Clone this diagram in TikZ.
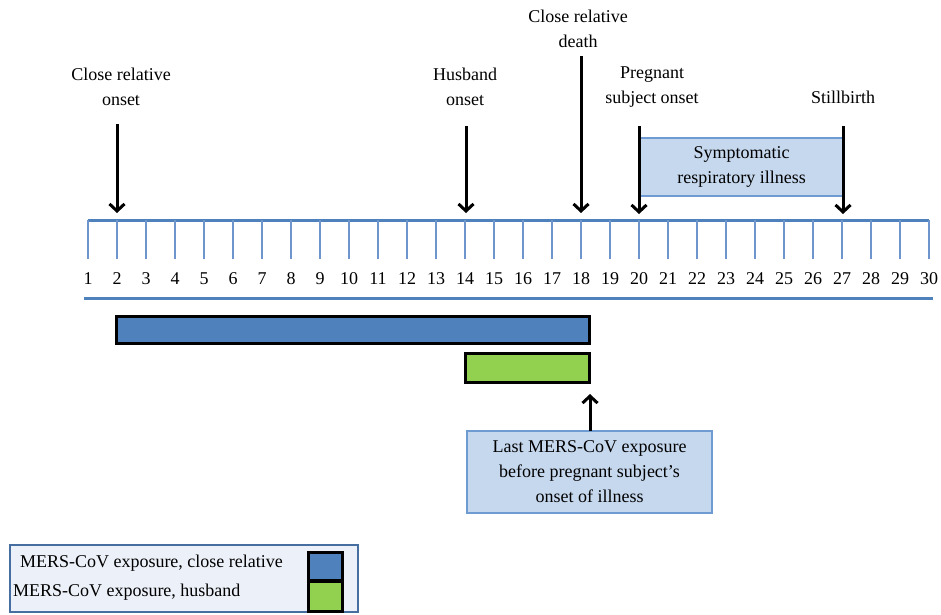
\documentclass[tikz,border=0pt]{standalone}
\usepackage{fontspec}
\setmainfont{Liberation Serif}
\usetikzlibrary{arrows.meta,calc}
\definecolor{axisblue}{RGB}{79,129,189}
\definecolor{tickblue}{RGB}{110,150,205}
\definecolor{barblue}{RGB}{79,129,189}
\definecolor{bargreen}{RGB}{146,208,80}
\definecolor{boxfill}{RGB}{198,216,238}
\definecolor{boxline}{RGB}{110,155,210}
\definecolor{legfill}{RGB}{236,240,248}
\definecolor{legline}{RGB}{70,110,160}
\begin{document}
\begin{tikzpicture}[x=1pt,y=-1pt,
  every node/.style={font=\rmfamily\fontsize{18}{25}\selectfont, inner sep=0pt, outer sep=0pt},
  lbl/.style={align=center},
  evarrow/.style={line width=3pt, -{Straight Barb[length=7pt,width=15pt,line width=3pt]}},
  axisline/.style={axisblue, line width=3pt},
  tickline/.style={tickblue, line width=1.3pt},
  barstyle/.style={draw=black, line width=3pt, rectangle},
  infobox/.style={draw=boxline, fill=boxfill, line width=1.2pt, rectangle, align=center},
  legbox/.style={draw=legline, fill=legfill, line width=2.5pt, rectangle},
  swatch/.style={draw=black, line width=3pt, rectangle, minimum width=34pt, minimum height=28pt}
]
\useasboundingbox (0,0) rectangle (941,614);

% axis
\draw[axisline] (88,220) -- (929,220);
\draw[axisline] (84,298) -- (933,298);
\foreach \n in {1,...,30}{
  \pgfmathsetmacro{\xx}{88+29*(\n-1)}
  \draw[tickline] (\xx,220) -- (\xx,259);
  \node (num\n) at (\xx,279) {\n};
}

% event labels
\node[lbl] (lcr) at (121,87) {Close relative\\onset};
\node[lbl] (lhb) at (465,87) {Husband\\onset};
\node[lbl] (lcd) at (578,29) {Close relative\\death};
\node[lbl] (lps) at (652,87) {Pregnant\\subject onset};
\node[lbl] (lsb) at (843,97) {Stillbirth};

% symptomatic box
\node[infobox, minimum width=203pt, minimum height=58pt] (symp) at (741.5,167) {Symptomatic\\respiratory illness};

% arrows
\coordinate (s2) at (117,124); \coordinate (e2) at (117,213);
\coordinate (s14) at (466,126); \coordinate (e14) at (466,213);
\coordinate (s18) at (581,56); \coordinate (e18) at (581,213);
\coordinate (s20) at (639,126); \coordinate (e20) at (639,214);
\coordinate (s27) at (843,126); \coordinate (e27) at (843,214);
\draw[evarrow] (s2) -- (e2);
\draw[evarrow] (s14) -- (e14);
\draw[evarrow] (s18) -- (e18);
\draw[evarrow] (s20) -- (e20);
\draw[evarrow] (s27) -- (e27);

% bars
\node[barstyle, fill=barblue, minimum width=473pt, minimum height=27pt] (barcr) at (353,330) {};
\node[barstyle, fill=bargreen, minimum width=124pt, minimum height=29pt] (barhb) at (527.5,368) {};

% last exposure box
\node[infobox, minimum width=245pt, minimum height=82pt] (last) at (589.5,472) {Last MERS-CoV exposure\\before pregnant subject’s\\onset of illness};
\coordinate (uptip) at (590,394);
\draw[evarrow] (last.north -| uptip) -- (uptip);

% legend
\node[legbox, minimum width=348pt, minimum height=67pt] (legend) at (184,578.5) {};
\node[swatch, fill=barblue] (swb) at (325.5,566) {};
\node[swatch, fill=bargreen, minimum height=30pt] (swg) at (325.5,596.5) {};
\node[anchor=west] (legt1) at (20,563) {MERS-CoV exposure, close relative};
\node[anchor=west] (legt2) at (13,592) {MERS-CoV exposure, husband};
\end{tikzpicture}
\end{document}
